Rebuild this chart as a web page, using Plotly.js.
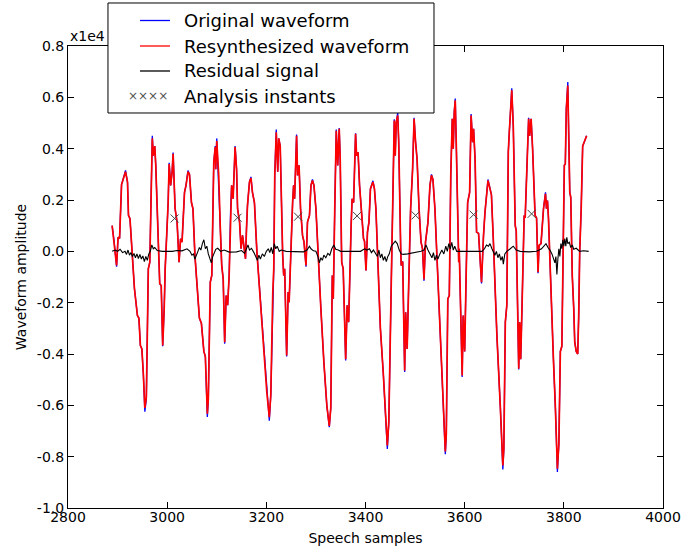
<!DOCTYPE html>
<html>
<head>
<meta charset="utf-8">
<script src="https://cdn.plot.ly/plotly-3.0.1.min.js"></script>
<style>html,body{margin:0;padding:0;background:#fff;}#chart{width:683px;height:549px;}</style>
</head>
<body>
<div id="chart"></div>
<script>
// Waveform samples (x) and amplitudes (units of 1e4)
const samples = [2889,2893,2898,2901,2904,2908,2911,2916,2920,2922,2925,2929,2934,2940,2943,2946,2949,2952,2955,2958,2960,2962,2965,2968,2970,2972,2975,2977,2980,2983,2985,2988,2991,2994,2996,3002,3004,3007,3010,3012,3014,3016,3020,3024,3027,3030,3035,3038,3042,3045,3049,3052,3056,3060,3065,3069,3074,3077,3081,3083,3087,3090,3094,3097,3098,3100,3102,3104,3107,3110,3113,3116,3119,3122,3125,3128,3130,3133,3135,3137,3140,3142,3146,3149,3152,3158,3160,3162,3166,3169,3172,3176,3181,3188,3195,3201,3206,3209,3213,3215,3217,3220,3223,3225,3228,3229,3233,3235,3237,3241,3244,3246,3249,3253,3255,3257,3261,3263,3266,3269,3273,3276,3280,3283,3287,3290,3293,3296,3300,3303,3310,3316,3322,3327,3330,3333,3335,3338,3341,3344,3347,3349,3352,3355,3358,3360,3363,3366,3371,3373,3376,3380,3382,3385,3388,3392,3396,3398,3401,3404,3407,3410,3415,3418,3421,3425,3430,3436,3440,3444,3447,3450,3452,3456,3458,3460,3462,3465,3467,3471,3472,3475,3477,3479,3481,3484,3487,3491,3495,3498,3501,3504,3508,3512,3515,3518,3521,3526,3530,3533,3536,3540,3544,3550,3555,3561,3563,3566,3569,3572,3575,3577,3579,3581,3583,3586,3588,3589,3592,3595,3597,3600,3603,3606,3610,3613,3616,3618,3621,3624,3628,3631,3634,3638,3641,3647,3651,3654,3658,3665,3672,3677,3679,3682,3685,3688,3690,3695,3698,3700,3702,3704,3707,3709,3711,3713,3716,3720,3722,3725,3729,3731,3734,3737,3742,3745,3748,3750,3754,3759,3763,3765,3767,3769,3773,3779,3783,3787,3790,3793,3796,3799,3801,3803,3805,3808,3810,3812,3814,3817,3820,3822,3825,3828,3830,3832,3835,3838,3841,3846];

const originalAmplitude = [0.10,0.04,-0.06,0.055,0.05,0.26,0.28,0.315,0.27,0.14,0.127,-0.003,-0.145,-0.25,-0.26,-0.367,-0.38,-0.48,-0.625,-0.575,-0.354,-0.068,-0.042,0.296,0.45,0.373,0.41,0.335,0.166,0.01,-0.126,-0.133,-0.37,-0.224,-0.068,0.19,0.345,0.257,0.31,0.385,0.296,0.166,0.114,-0.042,0.049,0.036,0.23,0.257,0.315,0.30,0.19,0.166,-0.016,-0.12,-0.26,-0.28,-0.39,-0.41,-0.645,-0.58,-0.12,-0.094,0.347,0.41,0.32,0.44,0.347,0.296,0.10,-0.055,-0.107,-0.36,-0.172,-0.21,-0.094,0.166,0.257,0.205,0.296,0.41,0.32,0.166,0.114,0.01,0.062,-0.029,0.088,0.179,0.27,0.29,0.23,0.19,-0.003,-0.198,-0.354,-0.55,-0.66,-0.56,-0.16,-0.068,0.296,0.475,0.31,0.44,0.41,0.296,-0.016,-0.094,-0.068,-0.41,-0.159,-0.198,-0.003,0.19,0.257,0.205,0.455,0.296,0.335,0.166,0.062,0.036,-0.06,0.114,0.14,0.257,0.28,0.257,0.166,0.036,-0.224,-0.43,-0.60,-0.685,-0.61,-0.094,-0.185,0.166,0.475,0.335,0.48,0.36,-0.042,-0.068,-0.29,-0.425,-0.21,-0.276,0.10,0.205,0.19,0.46,0.373,0.386,0.257,0.14,0.049,0.04,-0.075,0.075,0.114,0.244,0.275,0.244,0.166,-0.042,-0.30,-0.48,-0.61,-0.77,-0.67,-0.198,-0.12,0.296,0.515,0.373,0.503,0.54,0.425,0.01,-0.055,-0.04,-0.224,-0.47,-0.237,-0.38,-0.14,0.166,0.32,0.52,0.425,0.36,0.166,0.036,0.01,-0.115,0.036,0.114,0.257,0.30,0.28,0.166,-0.016,-0.30,-0.56,-0.79,-0.71,-0.185,-0.172,0.296,0.516,0.40,0.542,0.595,0.425,0.049,-0.042,0.01,-0.25,-0.49,-0.25,-0.39,-0.094,0.19,0.23,0.535,0.425,0.477,0.36,0.075,0.07,-0.016,-0.125,0.062,0.153,0.28,0.244,0.22,0.036,-0.328,-0.61,-0.85,-0.77,-0.276,-0.21,0.386,0.464,0.635,0.49,0.296,0.10,0.08,-0.224,-0.46,-0.276,-0.42,-0.19,0.14,0.13,0.296,0.52,0.45,0.516,0.40,0.14,0.13,-0.085,0.023,0.03,0.166,0.23,0.166,0.198,0.13,-0.12,-0.42,-0.61,-0.86,-0.75,-0.39,-0.37,0.10,0.335,0.34,0.555,0.66,0.425,0.23,0.21,-0.094,-0.224,-0.354,-0.39,-0.40,-0.25,-0.003,0.166,0.41,0.425,0.45];

const resynthAmplitude = [0.10,0.04,-0.055,0.055,0.05,0.26,0.28,0.31,0.27,0.14,0.127,-0.003,-0.145,-0.25,-0.26,-0.367,-0.38,-0.48,-0.61,-0.568,-0.354,-0.068,-0.042,0.296,0.44,0.373,0.41,0.335,0.166,0.01,-0.126,-0.133,-0.367,-0.224,-0.068,0.19,0.34,0.257,0.31,0.38,0.296,0.166,0.114,-0.042,0.049,0.036,0.23,0.257,0.31,0.30,0.19,0.166,-0.016,-0.12,-0.26,-0.28,-0.39,-0.41,-0.633,-0.574,-0.12,-0.094,0.347,0.406,0.32,0.43,0.347,0.296,0.10,-0.055,-0.107,-0.354,-0.172,-0.21,-0.094,0.166,0.257,0.205,0.296,0.406,0.32,0.166,0.114,0.01,0.062,-0.029,0.088,0.179,0.27,0.285,0.23,0.19,-0.003,-0.198,-0.354,-0.55,-0.646,-0.56,-0.16,-0.068,0.296,0.464,0.31,0.44,0.41,0.296,-0.016,-0.094,-0.068,-0.406,-0.159,-0.198,-0.003,0.19,0.257,0.205,0.45,0.296,0.335,0.166,0.062,0.036,-0.055,0.114,0.14,0.257,0.276,0.257,0.166,0.036,-0.224,-0.43,-0.60,-0.68,-0.61,-0.094,-0.185,0.166,0.47,0.335,0.477,0.36,-0.042,-0.068,-0.29,-0.42,-0.21,-0.276,0.10,0.205,0.19,0.458,0.373,0.386,0.257,0.14,0.049,0.04,-0.075,0.075,0.114,0.244,0.27,0.244,0.166,-0.042,-0.30,-0.48,-0.61,-0.756,-0.665,-0.198,-0.12,0.296,0.51,0.373,0.503,0.529,0.425,0.01,-0.055,-0.04,-0.224,-0.464,-0.237,-0.38,-0.14,0.166,0.32,0.516,0.425,0.36,0.166,0.036,0.01,-0.11,0.036,0.114,0.257,0.296,0.28,0.166,-0.016,-0.30,-0.56,-0.78,-0.71,-0.185,-0.172,0.296,0.516,0.40,0.542,0.588,0.425,0.049,-0.042,0.01,-0.25,-0.484,-0.25,-0.39,-0.094,0.19,0.23,0.529,0.425,0.477,0.36,0.075,0.07,-0.016,-0.12,0.062,0.153,0.276,0.244,0.22,0.036,-0.328,-0.61,-0.834,-0.77,-0.276,-0.21,0.386,0.464,0.627,0.49,0.296,0.10,0.08,-0.224,-0.457,-0.276,-0.42,-0.19,0.14,0.13,0.296,0.516,0.45,0.516,0.40,0.14,0.13,-0.081,0.023,0.03,0.166,0.224,0.166,0.198,0.13,-0.12,-0.42,-0.61,-0.847,-0.75,-0.39,-0.37,0.10,0.335,0.34,0.555,0.646,0.425,0.23,0.21,-0.094,-0.224,-0.354,-0.39,-0.40,-0.25,-0.003,0.166,0.41,0.425,0.45];

// Residual signal
const residualSamples = [2889,2895,2900,2905,2910,2915,2918,2921,2924,2927,2930,2933,2936,2939,2942,2945,2948,2951,2954,2957,2960,2963,2966,2969,2972,2975,2980,2990,3000,3010,3020,3030,3040,3046,3050,3053,3056,3059,3062,3065,3068,3071,3074,3077,3080,3083,3086,3089,3092,3095,3098,3102,3108,3115,3125,3140,3150,3156,3160,3163,3166,3170,3175,3179,3182,3185,3188,3192,3196,3200,3204,3207,3210,3213,3216,3219,3222,3226,3230,3240,3260,3275,3282,3287,3290,3295,3300,3304,3307,3310,3313,3316,3320,3324,3328,3332,3336,3340,3345,3350,3360,3375,3390,3398,3403,3408,3412,3416,3420,3424,3427,3430,3433,3436,3439,3442,3445,3448,3452,3456,3460,3464,3468,3472,3476,3485,3500,3512,3518,3522,3526,3530,3534,3537,3540,3543,3546,3550,3554,3558,3562,3565,3568,3571,3574,3577,3580,3584,3590,3600,3620,3635,3640,3644,3648,3651,3655,3658,3661,3664,3667,3670,3673,3676,3678,3681,3685,3692,3698,3704,3712,3730,3745,3755,3760,3764,3768,3772,3776,3779,3782,3784,3786,3788,3790,3792,3794,3796,3798,3800,3802,3804,3806,3808,3811,3814,3817,3820,3825,3832,3840,3850];
const residual = [0.0,0.005,0.0,0.008,-0.005,0.0,-0.012,0.005,-0.015,-0.005,-0.02,-0.008,-0.025,-0.01,-0.028,-0.012,-0.03,-0.018,-0.04,-0.02,-0.035,-0.01,0.0,0.025,0.01,0.015,0.003,0.0,0.0,0.0,0.003,0.002,0.01,0.0,-0.015,-0.01,-0.03,-0.01,0.0,0.015,0.005,0.03,0.045,0.01,0.02,-0.01,-0.03,-0.045,-0.02,-0.005,0.008,0.012,0.0,0.005,-0.003,-0.002,0.003,-0.008,0.015,0.025,0.005,0.012,-0.005,-0.02,-0.035,-0.015,-0.03,-0.01,-0.02,0.0,0.01,-0.005,0.015,-0.01,0.03,0.01,0.02,0.0,0.005,0.0,-0.002,-0.002,0.005,0.02,0.01,0.002,0.0,-0.02,-0.045,-0.025,-0.035,-0.015,-0.025,-0.008,-0.015,0.01,0.025,0.008,0.005,0.0,0.0,0.0,0.0,0.01,0.005,0.01,-0.005,0.005,-0.01,-0.02,0.005,-0.025,-0.01,-0.035,-0.02,-0.04,-0.02,-0.01,0.02,0.03,0.04,0.03,0.005,-0.01,-0.012,-0.01,-0.005,0.0,0.005,0.025,0.005,-0.01,-0.025,-0.005,-0.035,-0.015,-0.03,-0.01,0.005,-0.01,0.02,0.0,0.03,0.01,0.035,0.005,0.02,0.0,0.0,-0.002,-0.002,0.0,0.01,0.025,0.02,0.03,0.01,0.0,-0.015,0.0,-0.025,-0.01,-0.035,-0.02,-0.05,-0.01,0.0,0.01,0.02,0.005,0.0,-0.002,0.0,0.01,0.02,0.03,0.015,0.005,-0.01,-0.03,-0.045,-0.02,-0.09,-0.03,0.01,-0.02,0.03,0.01,0.045,0.02,0.05,0.02,0.055,0.03,0.035,0.015,0.025,0.008,0.012,0.0,0.002,0.0];

// Analysis instants
const instantSamples = [3015,3142,3264,3383,3501,3618,3735];
const instantAmplitude = [0.128,0.131,0.135,0.138,0.14,0.143,0.146];

// Axis ticks
const xTicks = [2800,3000,3200,3400,3600,3800,4000];
const yTicks = [-1.0,-0.8,-0.6,-0.4,-0.2,0.0,0.2,0.4,0.6,0.8];
const yTickText = ['-1.0','-0.8','-0.6','-0.4','-0.2','0.0','0.2','0.4','0.6','0.8'];

// Legend labels
const legendLabels = ['Original waveform','Resynthesized waveform','Residual signal','Analysis instants'];
const legendColors = ['#0000ff','#ff0000','#000000'];

const font = 'DejaVu Sans, sans-serif';

const traces = [
  {x: samples, y: originalAmplitude, type: 'scatter', mode: 'lines', name: legendLabels[0],
   line: {color: legendColors[0], width: 1.3}, showlegend: false, hoverinfo: 'skip'},
  {x: samples, y: resynthAmplitude, type: 'scatter', mode: 'lines', name: legendLabels[1],
   line: {color: legendColors[1], width: 1.7}, showlegend: false, hoverinfo: 'skip'},
  {x: residualSamples, y: residual, type: 'scatter', mode: 'lines', name: legendLabels[2],
   line: {color: legendColors[2], width: 1.1}, showlegend: false, hoverinfo: 'skip'},
  {x: instantSamples, y: instantAmplitude, type: 'scatter', mode: 'markers', name: legendLabels[3],
   marker: {symbol: 'x-thin', size: 8, line: {color: '#444', width: 1}}, showlegend: false, hoverinfo: 'skip'}
];

// legend geometry in paper coordinates
const lgX0 = 0.0672, lgX1 = 0.6151, lgY0 = 0.855, lgY1 = 1.0931;
const rowY = [1.0552, 1.0, 0.9459, 0.8907];
const lineX0 = 0.121, lineX1 = 0.1714, textX = 0.1916;

const shapes = [
  {type: 'rect', xref: 'paper', yref: 'paper', x0: lgX0, x1: lgX1, y0: lgY0, y1: lgY1,
   fillcolor: '#ffffff', line: {color: '#000', width: 1}, layer: 'above'}
];
for (let i = 0; i < 3; i++) {
  shapes.push({type: 'line', xref: 'paper', yref: 'paper', x0: lineX0, x1: lineX1, y0: rowY[i], y1: rowY[i],
    line: {color: legendColors[i], width: 1.3}, layer: 'above'});
}

const annotations = [
  {text: 'x1e4', xref: 'paper', yref: 'paper', x: 0, y: 1, xanchor: 'left', yanchor: 'bottom',
   showarrow: false, font: {family: font, size: 14, color: '#000'}}
];
for (let i = 0; i < 4; i++) {
  annotations.push({text: legendLabels[i], xref: 'paper', yref: 'paper', x: textX, y: rowY[i],
    xanchor: 'left', yanchor: 'middle', showarrow: false, font: {family: font, size: 18, color: '#000'}});
}
annotations.push({text: '××××', xref: 'paper', yref: 'paper', x: lineX1, y: rowY[3],
  xanchor: 'right', yanchor: 'middle', showarrow: false, font: {family: font, size: 12, color: '#555'}});

const layout = {
  width: 683, height: 549,
  margin: {l: 68, r: 20, t: 46, b: 41},
  paper_bgcolor: '#fff', plot_bgcolor: '#fff',
  font: {family: font, size: 14, color: '#000'},
  showlegend: false,
  xaxis: {range: [2800, 4000], tickvals: xTicks, ticktext: xTicks.map(String), ticks: 'inside', ticklen: 6,
    tickcolor: '#000', mirror: 'ticks', showline: true, linecolor: '#000', linewidth: 1,
    showgrid: false, zeroline: false, tickfont: {family: font, size: 14}, ticklabelstandoff: -4,
    title: {text: 'Speech samples', font: {family: font, size: 14}, standoff: 9}},
  yaxis: {range: [-1.0, 0.8], tickvals: yTicks, ticktext: yTickText, ticks: 'inside', ticklen: 6,
    tickcolor: '#000', mirror: 'ticks', showline: true, linecolor: '#000', linewidth: 1,
    showgrid: false, zeroline: false, tickfont: {family: font, size: 14},
    title: {text: 'Waveform amplitude', font: {family: font, size: 14}, standoff: 6}},
  shapes: shapes,
  annotations: annotations
};

Plotly.newPlot('chart', traces, layout, {displayModeBar: false, staticPlot: true});
</script>
</body>
</html>
